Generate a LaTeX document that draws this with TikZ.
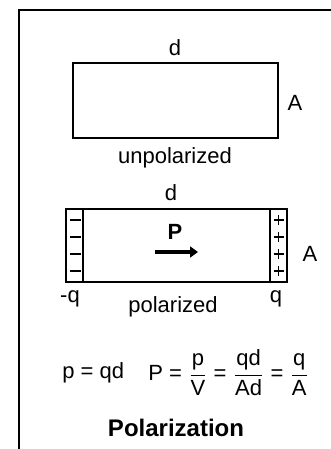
\documentclass[tikz,border=0pt]{standalone}
\usepackage{fontspec}
\usepackage{amsmath}
\setmainfont{Liberation Sans}
\usetikzlibrary{arrows.meta}
\begin{document}
\begin{tikzpicture}[x=0.5pt, y=-0.5pt,
    lbl/.style={inner sep=0pt, font=\fontsize{11}{13}\selectfont},
    sign/.style={line width=0.8pt},
    slab/.style={line width=0.9pt}]
  \useasboundingbox (0,0) rectangle (331,449);
  \draw[line width=1pt] (331,10) -- (19,10) -- (19,449);
  % unpolarized slab
  \draw[slab] (73,63) rectangle (278,138);
  \node[lbl] (d1) at (175,48) {d};
  \node[lbl] (A1) at (295,103) {A};
  \node[lbl] (unpol) at (175,158) {unpolarized};
  % polarized slab
  \draw[slab] (66,209) rectangle (287,282);
  \draw[slab] (83,209) -- (83,282) (270,209) -- (270,282);
  \foreach \y in {220,237,254,271} {
    \draw[sign] (70,\y) -- (81,\y);
    \draw[sign] (273.5,\y) -- (283.5,\y) (278.5,\y-5) -- (278.5,\y+5);
  }
  \node[lbl] (d2) at (171,193) {d};
  \node[lbl] (A2) at (310,254) {A};
  \node[lbl, font=\fontsize{11}{13}\selectfont\bfseries] (P) at (175,232) {P};
  \coordinate (pa) at (155,252);
  \coordinate (pb) at (198,252);
  \draw[line width=2.2pt, -{Triangle[length=4pt,width=5.5pt]}] (pa) -- (pb);
  \node[lbl] (mq) at (70,299) {-q};
  \node[lbl] (q) at (276,299) {q};
  \node[lbl] (pol) at (173,307) {polarized};
  % formulas
  \node[lbl, anchor=west] (pqd) at (62,373) {p = qd};
  \node[lbl, anchor=west] (Pdef) at (148,373)
    {$\text{P = }\dfrac{\text{p}}{\text{V}}\text{ = }\dfrac{\text{qd}}{\text{Ad}}\text{ = }\dfrac{\text{q}}{\text{A}}$};
  \node[lbl, font=\fontsize{12}{14}\selectfont\bfseries] (title) at (176,428) {Polarization};
\end{tikzpicture}
\end{document}
